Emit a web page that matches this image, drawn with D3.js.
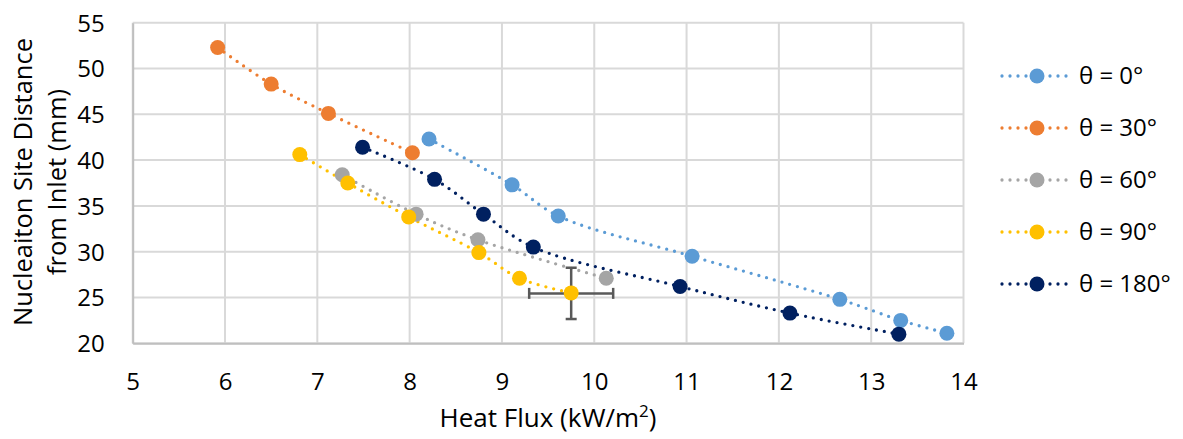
<!DOCTYPE html>
<html>
<head>
<meta charset="utf-8">
<script src="https://cdn.jsdelivr.net/npm/d3@7"></script>
<style>
  body { margin: 0; background: #fff; }
  svg, svg text { font-family: "Open Sans", sans-serif; }
</style>
</head>
<body>
<div class="container"></div>
<script>
// values
var seriesNames = ["θ = 0°", "θ = 30°", "θ = 60°", "θ = 90°", "θ = 180°"];
var colors = ["#5B9BD5", "#ED7D31", "#A5A5A5", "#FFC000", "#002060"];

var flux0 = [8.21, 9.11, 9.61, 11.06, 12.66, 13.32, 13.82];
var dist0 = [42.3, 37.3, 33.9, 29.5, 24.8, 22.5, 21.1];
var flux30 = [5.92, 6.50, 7.12, 8.03];
var dist30 = [52.3, 48.3, 45.1, 40.8];
var flux60 = [7.27, 8.07, 8.74, 10.13];
var dist60 = [38.4, 34.1, 31.3, 27.1];
var flux90 = [6.81, 7.33, 7.99, 8.75, 9.19, 9.75];
var dist90 = [40.6, 37.5, 33.8, 29.9, 27.1, 25.5];
var flux180 = [7.49, 8.27, 8.80, 9.34, 10.93, 12.12, 13.30];
var dist180 = [41.4, 37.9, 34.1, 30.5, 26.2, 23.3, 21.0];

// error bar on the last 90° point
var errFlux = [9.75], errDist = [25.45];
var errX = [0.455], errY = [2.8];

var xTicks = [5, 6, 7, 8, 9, 10, 11, 12, 13, 14];
var yTicks = [20, 25, 30, 35, 40, 45, 50, 55];

var fluxes = [flux0, flux30, flux60, flux90, flux180];
var dists = [dist0, dist30, dist60, dist90, dist180];
var series = seriesNames.map(function(n, i) {
  return { name: n, color: colors[i],
    pts: fluxes[i].map(function(f, j) { return [f, dists[i][j]]; }) };
});

var W = 1183, H = 439;
var pLeft = 132.7, pRight = 963.5, pTop = 22.7, pBottom = 343.3;

var svg = d3.select(".container").append("svg")
  .attr("width", W).attr("height", H);

var x = d3.scaleLinear().domain([5, 14]).range([pLeft, pRight]);
var y = d3.scaleLinear().domain([20, 55]).range([pBottom, pTop]);

// gridlines
svg.append("g").selectAll("line").data(xTicks).enter().append("line")
  .attr("x1", function(d) { return x(d); }).attr("x2", function(d) { return x(d); })
  .attr("y1", pTop).attr("y2", pBottom)
  .attr("stroke", "#d9d9d9").attr("stroke-width", 2);
svg.append("g").selectAll("line").data(yTicks).enter().append("line")
  .attr("y1", function(d) { return y(d); }).attr("y2", function(d) { return y(d); })
  .attr("x1", pLeft).attr("x2", pRight)
  .attr("stroke", "#d9d9d9").attr("stroke-width", 2);

// axes
var xAxis = svg.append("g").attr("transform", "translate(0," + pBottom + ")")
  .call(d3.axisBottom(x).tickValues(xTicks).tickSize(0).tickPadding(0))
  .attr("font-family", null);
xAxis.select(".domain").attr("stroke", "#bfbfbf").attr("stroke-width", 2);
xAxis.selectAll("text").attr("y", 47).attr("dy", 0)
  .style("font-size", "24px").attr("fill", "#000");

var yAxis = svg.append("g").attr("transform", "translate(" + pLeft + ",0)")
  .call(d3.axisLeft(y).tickValues(yTicks).tickSize(0).tickPadding(0))
  .attr("font-family", null);
yAxis.select(".domain").attr("stroke", "#bfbfbf").attr("stroke-width", 2);
yAxis.selectAll("text").attr("x", -28).attr("dy", "0.35em")
  .style("font-size", "24px").attr("fill", "#000");

// lines
var line = d3.line()
  .x(function(d) { return x(d[0]); })
  .y(function(d) { return y(d[1]); })
  .curve(d3.curveCatmullRom.alpha(0.5));

svg.append("g").selectAll("path").data(series).enter().append("path")
  .attr("d", function(d) { return line(d.pts); })
  .attr("fill", "none")
  .attr("stroke", function(d) { return d.color; })
  .attr("stroke-width", 3.3)
  .attr("stroke-linecap", "round")
  .attr("stroke-dasharray", "0 8");

// error bars, under the markers
var eb = svg.append("g").attr("stroke", "#595959").attr("stroke-width", 2.5);
errFlux.forEach(function(f, i) {
  var cx = x(f), cy = y(errDist[i]);
  var x0 = x(f - errX[i]), x1 = x(f + errX[i]);
  var y0 = y(errDist[i] + errY[i]), y1 = y(errDist[i] - errY[i]);
  eb.append("line").attr("x1", x0).attr("x2", x1).attr("y1", cy).attr("y2", cy);
  eb.append("line").attr("x1", x0).attr("x2", x0).attr("y1", cy - 5.5).attr("y2", cy + 5.5);
  eb.append("line").attr("x1", x1).attr("x2", x1).attr("y1", cy - 5.5).attr("y2", cy + 5.5);
  eb.append("line").attr("x1", cx).attr("x2", cx).attr("y1", y0).attr("y2", y1);
  eb.append("line").attr("x1", cx - 5.5).attr("x2", cx + 5.5).attr("y1", y0).attr("y2", y0);
  eb.append("line").attr("x1", cx - 5.5).attr("x2", cx + 5.5).attr("y1", y1).attr("y2", y1);
});

// markers, series drawn in order
var mk = svg.append("g").selectAll("g").data(series).enter().append("g");
mk.selectAll("circle").data(function(d) { return d.pts.map(function(p) { return { p: p, c: d.color }; }); })
  .enter().append("circle")
  .attr("cx", function(d) { return x(d.p[0]); })
  .attr("cy", function(d) { return y(d.p[1]); })
  .attr("r", 7.5)
  .attr("fill", function(d) { return d.c; });

// axis titles
svg.append("text")
  .attr("x", 548).attr("y", 427)
  .attr("text-anchor", "middle").style("font-size", "26px")
  .html('Heat Flux (kW/m<tspan dy="-10" font-size="17px">2</tspan><tspan dy="10">)</tspan>');

var yt = svg.append("text")
  .attr("transform", "translate(0,182) rotate(-90)")
  .attr("text-anchor", "middle").style("font-size", "25.5px");
yt.append("tspan").attr("x", 0).attr("y", 32).text("Nucleaiton Site Distance");
yt.append("tspan").attr("x", 0).attr("y", 66).text("from Inlet (mm)");

// legend
var lg = svg.append("g").selectAll("g").data(series).enter().append("g")
  .attr("transform", function(d, i) { return "translate(0," + (76 + i * 52) + ")"; });
lg.append("line").attr("x1", 1002).attr("x2", 1071).attr("y1", 0).attr("y2", 0)
  .attr("stroke", function(d) { return d.color; })
  .attr("stroke-width", 3.3).attr("stroke-linecap", "round").attr("stroke-dasharray", "0 8");
lg.append("circle").attr("cx", 1037).attr("cy", 0).attr("r", 7.5)
  .attr("fill", function(d) { return d.color; });
lg.append("text").attr("x", 1079).attr("dy", "0.35em")
  .style("font-size", "24px").text(function(d) { return d.name; });
</script>
</body>
</html>
